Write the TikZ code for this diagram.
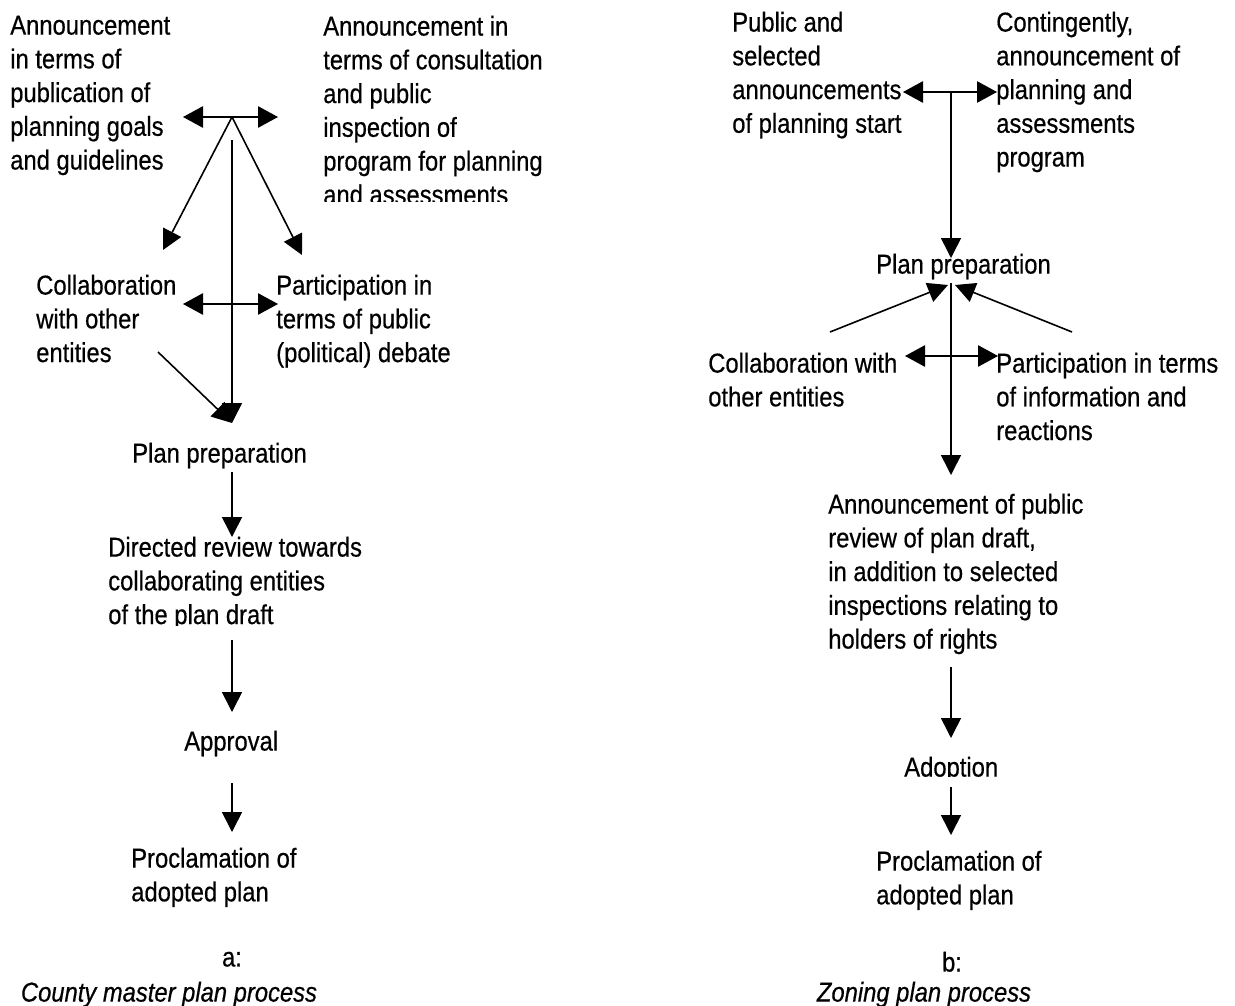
\documentclass[tikz,border=0pt]{standalone}
\usepackage{fontspec}
\setmainfont{Liberation Sans}
\newfontfamily\tallfont[FakeStretch=0.87,FakeBold=0.5]{Liberation Sans}
\usetikzlibrary{arrows.meta}
\begin{document}
\begin{tikzpicture}[x=0.75pt,y=-0.75pt,
  txt/.style={anchor=north west,inner sep=0pt,align=left,font=\tallfont\fontsize{20.5pt}{25.3pt}\selectfont},
  ctr/.style={anchor=north,inner sep=0pt,align=center,font=\tallfont\fontsize{20.5pt}{25.3pt}\selectfont},
  ln/.style={line width=1.2pt},
  arr/.style={ln,-{Triangle[length=15pt,width=15pt]}},
  darr/.style={ln,{Triangle[length=15pt,width=16pt]}-{Triangle[length=15pt,width=16pt]}}]
\fill[white] (0,0) rectangle (1235,1006);
\useasboundingbox (0,0) rectangle (1235,1006);

% ---------- left: a ----------
\node[txt] (a1) at (10,15.5) {Announcement\\in terms of\\publication of\\planning goals\\and guidelines};
\begin{scope}
\clip (310,0) rectangle (700,201);
\node[txt] (a2) at (323,15.5) {Announcement in\\terms of consultation\\and public\\inspection of\\program for planning\\and assessments};
\end{scope}
\node[txt] (a3) at (36,274.5) {Collaboration\\with other\\entities};
\node[txt] (a4) at (276,274.5) {Participation in\\terms of public\\(political) debate};
\node[txt] (a5) at (132,442.5) {Plan preparation};
\begin{scope}
\clip (90,520) rectangle (400,625);
\node[txt] (a6) at (108,536.5) {Directed review towards\\collaborating entities\\of the plan draft};
\end{scope}
\node[txt] (a7) at (184,730.5) {Approval};
\node[txt] (a8) at (131,847.5) {Proclamation of\\adopted plan};
\node[ctr] (acap) at (232,951.5) {a:};
\node[ctr] (atitle) at (169,981.5) {\itshape County master plan process};

\coordinate (aJ) at (232,117);
\coordinate (aHL) at (183,117);
\coordinate (aHR) at (278,117);
\coordinate (aDL) at (163,250);
\coordinate (aDR) at (302,255);
\coordinate (aVt) at (232,140);
\coordinate (aVb) at (232,423);
\coordinate (aML) at (183,304);
\coordinate (aMR) at (278,304);
\coordinate (aS) at (158,352);

\draw[darr] (aHL) -- (aHR);
\draw[arr] (aJ) -- (aDL);
\draw[arr] (aJ) -- (aDR);
\draw[darr] (aML) -- (aMR);
\draw[arr] (aVt) -- (aVb);
\draw[arr] (aS) -- (aVb);
\draw[arr] (232,472) coordinate (p1) -- (232,537) coordinate (p2);
\draw[arr] (232,640) coordinate (p3) -- (232,712) coordinate (p4);
\draw[arr] (232,783) coordinate (p5) -- (232,832) coordinate (p6);

% ---------- right: b ----------
\node[txt] (b1) at (732,11.5) {Public and\\selected\\announcements\\of planning start};
\node[txt] (b2) at (996,11.5) {Contingently,\\announcement of\\planning and\\assessments\\program};
\node[txt] (b3) at (876,253.5) {Plan preparation};
\node[txt] (b4) at (708,352.5) {Collaboration with\\other entities};
\node[txt] (b5) at (996,352.5) {Participation in terms\\of information and\\reactions};
\node[txt] (b6) at (828,493.5) {Announcement of public\\review of plan draft,\\in addition to selected\\inspections relating to\\holders of rights};
\begin{scope}
\clip (880,740) rectangle (1040,776);
\node[txt] (b7) at (904,756.5) {Adoption};
\end{scope}
\node[txt] (b8) at (876,850.5) {Proclamation of\\adopted plan};
\node[ctr] (bcap) at (952,951.5) {b:};
\node[ctr] (btitle) at (924,981.5) {\itshape Zoning plan process};

\coordinate (bJ) at (951,92);
\coordinate (bHL) at (903,92);
\coordinate (bHR) at (997,92);
\coordinate (bVb) at (951,258);
\coordinate (bSL) at (830,332);
\coordinate (bSR) at (1072,332);
\coordinate (bTL) at (948,285);
\coordinate (bTR) at (955,285);
\coordinate (bVt) at (951,283);
\coordinate (bVe) at (951,475);
\coordinate (bML) at (905,356);
\coordinate (bMR) at (998,356);

\draw[darr] (bHL) -- (bHR);
\draw[arr] (bJ) -- (bVb);
\draw[arr] (bSL) -- (bTL);
\draw[arr] (bSR) -- (bTR);
\draw[arr] (bVt) -- (bVe);
\draw[darr] (bML) -- (bMR);
\draw[arr] (951,667) coordinate (q1) -- (951,738) coordinate (q2);
\draw[arr] (951,787) coordinate (q3) -- (951,835) coordinate (q4);
\end{tikzpicture}
\end{document}
